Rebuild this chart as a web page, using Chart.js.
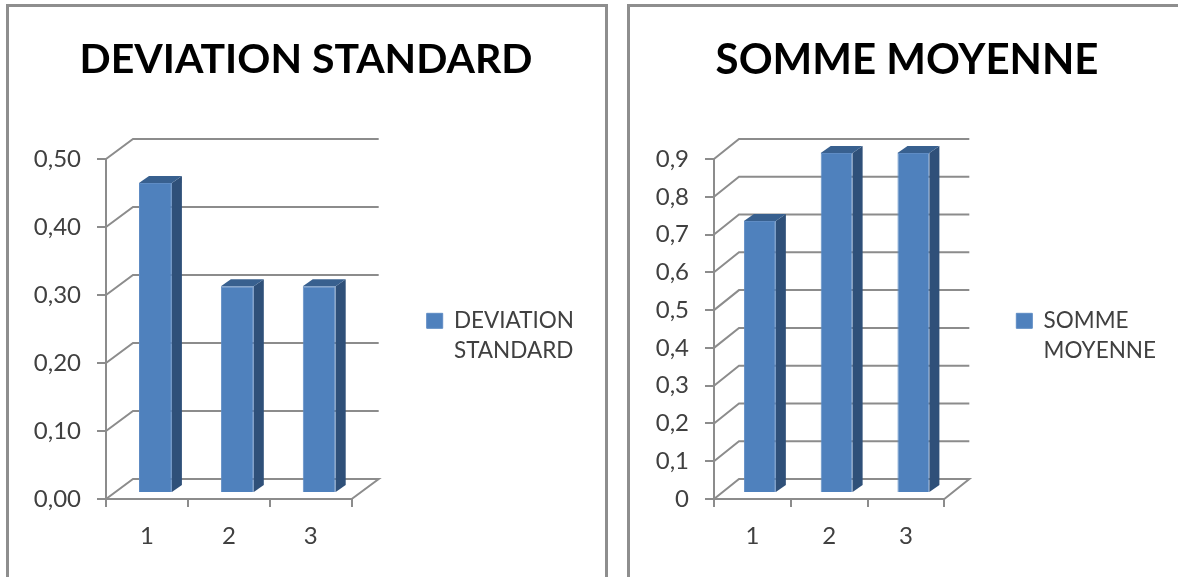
<!DOCTYPE html>
<html>
<head>
<meta charset="utf-8">
<title>Deviation standard / Somme moyenne</title>
<script src="https://cdn.jsdelivr.net/npm/chart.js@4"></script>
<style>
html, body { margin: 0; padding: 0; background: #fff; overflow: hidden; width: 1178px; height: 577px; }
.frame { position: absolute; top: 4px; height: 700px; border: 3px solid #8e8e8e; box-sizing: border-box; }
.box { position: absolute; top: 0; height: 577px; }
</style>
</head>
<body>
<div class="frame" style="left:6px;width:602px"></div>
<div class="frame" style="left:627px;width:700px"></div>
<div class="box" style="left:28px;width:556px"><canvas id="chartA"></canvas></div>
<div class="box" style="left:648px;width:518px"><canvas id="chartB"></canvas></div>
<script>
const categories = ['1', '2', '3'];
const deviationValues = [0.456, 0.304, 0.304];
const sommeValues = [0.72, 0.9, 0.9];
const deviationTicks = ['0,00', '0,10', '0,20', '0,30', '0,40', '0,50'];
const sommeTicks = ['0', '0,1', '0,2', '0,3', '0,4', '0,5', '0,6', '0,7', '0,8', '0,9'];

const axisColor = '#8c8c8c';
const textColor = '#404040';
const fontName = 'Lato';

// fake 3d look: back wall grid lines, bars pushed into the box, side and top faces
const fake3d = {
    id: 'fake3d',
    afterLayout(chart) {
        chart.legend.top += 51;
        chart.legend.bottom += 51;
    },
    beforeDatasetsDraw(chart, args, opts) {
        const ctx = chart.ctx;
        const area = chart.chartArea;
        const y = chart.scales.y;
        ctx.save();
        ctx.strokeStyle = axisColor;
        ctx.lineWidth = 2;
        y.ticks.forEach((t, i) => {
            const py = y.getPixelForTick(i);
            ctx.beginPath();
            ctx.moveTo(area.left, py);
            ctx.lineTo(area.left + opts.wallX, py - opts.wallY);
            ctx.lineTo(area.right + opts.wallX, py - opts.wallY);
            if (i == 0) ctx.lineTo(area.right, py);
            ctx.stroke();
        });
        ctx.restore();
        ctx.save();
        ctx.translate(opts.barX, -6);
    },
    afterDatasetsDraw(chart, args, opts) {
        const ctx = chart.ctx;
        chart.getDatasetMeta(0).data.forEach((bar) => {
            const p = bar.getProps(['x', 'y', 'base', 'width'], true);
            const r = p.x + p.width / 2;
            const l = p.x - p.width / 2;
            ctx.fillStyle = '#2f5079';
            ctx.beginPath();
            ctx.moveTo(r, p.y);
            ctx.lineTo(r + 10, p.y - 7);
            ctx.lineTo(r + 10, p.base - 7);
            ctx.lineTo(r, p.base);
            ctx.closePath();
            ctx.fill();
            ctx.fillStyle = '#38608f';
            ctx.beginPath();
            ctx.moveTo(l, p.y);
            ctx.lineTo(l + 10, p.y - 7);
            ctx.lineTo(r + 10, p.y - 7);
            ctx.lineTo(r, p.y);
            ctx.closePath();
            ctx.fill();
        });
        ctx.restore();
    }
};

function makeChart(id, titleText, seriesLabel, values, tickLabels, maxValue, cfg) {
    return new Chart(document.getElementById(id), {
        type: 'bar',
        plugins: [fake3d],
        data: {
            labels: categories,
            datasets: [{
                label: seriesLabel,
                data: values,
                backgroundColor: '#4f81bd',
                borderColor: '#5f8cc4',
                borderWidth: 1,
                barPercentage: cfg.barPct,
                categoryPercentage: 1
            }]
        },
        options: {
            responsive: true,
            maintainAspectRatio: false,
            animation: false,
            layout: { padding: 0 },
            scales: {
                x: {
                    afterFit(s) { s.height = 78; },
                    border: { color: axisColor, width: 2 },
                    grid: { drawOnChartArea: false, color: axisColor, lineWidth: 2, tickLength: 8 },
                    ticks: { color: textColor, padding: 15, font: { family: fontName, size: 24 } }
                },
                y: {
                    min: 0,
                    max: maxValue,
                    afterFit(s) { s.width = cfg.axisWidth; },
                    border: { color: axisColor, width: 2 },
                    grid: { drawOnChartArea: false, color: axisColor, lineWidth: 2, tickLength: 9 },
                    ticks: {
                        stepSize: 0.1,
                        color: textColor,
                        padding: 16,
                        font: { family: fontName, size: 24 },
                        callback: (v, i) => tickLabels[i]
                    }
                }
            },
            plugins: {
                fake3d: { wallX: cfg.wallX, wallY: 20, barX: cfg.barX },
                tooltip: { enabled: false },
                title: {
                    display: true,
                    text: titleText,
                    color: '#000',
                    font: { family: fontName, size: cfg.titleSize, weight: 'bold' },
                    padding: { top: 35, bottom: 124 - cfg.titleSize * 1.2 }
                },
                legend: {
                    position: 'right',
                    maxWidth: 320,
                    labels: {
                        color: textColor,
                        boxWidth: 16,
                        boxHeight: 15,
                        padding: cfg.legendPad,
                        font: { family: fontName, size: 22.5, lineHeight: 1.33 }
                    }
                }
            }
        }
    });
}

makeChart('chartA', 'DEVIATION STANDARD', ['DEVIATION', 'STANDARD'], deviationValues, deviationTicks, 0.5,
    { barPct: 0.402, axisWidth: 78, wallX: 27, barX: 8.5, legendPad: 75, titleSize: 41 });
makeChart('chartB', 'SOMME MOYENNE', ['SOMME', 'MOYENNE'], sommeValues, sommeTicks, 0.9,
    { barPct: 0.416, axisWidth: 66, wallX: 25, barX: 7.5, legendPad: 72, titleSize: 42 });
</script>
</body>
</html>
